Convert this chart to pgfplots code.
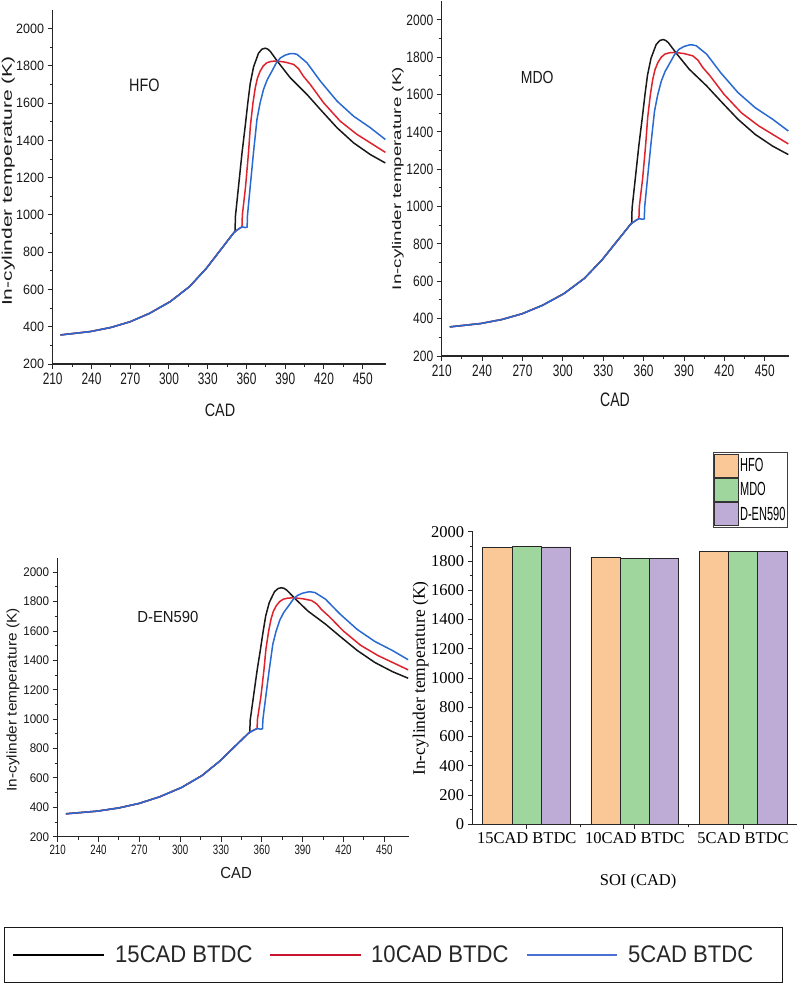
\documentclass[border=0pt]{standalone}
\usepackage{fontspec}
\setmainfont{Liberation Serif}
\usepackage{pgfplots}
\pgfplotsset{compat=1.18}
\usepackage{pgfplotstable}

\newfontfamily\fxa[FakeStretch=0.72]{Liberation Sans}
\newfontfamily\fya[FakeStretch=0.93]{Liberation Sans}
\newfontfamily\fti[FakeStretch=0.8]{Liberation Sans}
\newfontfamily\fyl[FakeStretch=1.5]{Liberation Sans}
\newfontfamily\fylc[FakeStretch=1.1]{Liberation Sans}
\newfontfamily\flg[FakeStretch=0.58]{Liberation Sans}
\newfontfamily\fbig[FakeStretch=0.92]{Liberation Sans}
\newcommand{\fs}[1]{\fontsize{#1bp}{#1bp}\selectfont}

\definecolor{cRed}{RGB}{222,35,45}
\definecolor{cBlue}{RGB}{40,105,210}
\definecolor{lRed}{RGB}{200,20,45}
\definecolor{lBlue}{RGB}{75,110,215}
\definecolor{cHFO}{RGB}{250,199,150}
\definecolor{cMDO}{RGB}{158,214,158}
\definecolor{cDEN}{RGB}{190,172,214}

% 15CAD BTDC
\pgfplotstableread{
cad T
216 356
225 363
239 374
255 396
270 427
285 472
301 535
316 616
329 714
340 813
345 858
350 903
351.2 914
351.4 990
353.8 1150
356.5 1330
359 1476
361 1600
362.9 1705
365.5 1795
369.3 1868
372 1890
374.5 1895
376.5 1890
378.4 1878
384.8 1817
393.9 1736
406.8 1647
417.2 1566
430.1 1468
442.9 1387
455.9 1324
467.5 1279
}\tblack
% 10CAD BTDC
\pgfplotstableread{
cad T
216 356
225 363
239 374
255 396
270 427
285 472
301 535
316 616
329 714
340 813
345 858
350 903
352 915
354 925
355.5 932
356.5 936
356.8 1000
359.3 1153
361.5 1330
363 1476
365 1600
366.8 1683
368.5 1735
370.6 1772
373 1800
375.8 1817
379 1824
382.3 1826
386 1824
390 1820
396.5 1808
400.3 1785
404 1745
409.4 1700
419.7 1602
432.6 1503
445.6 1432
455.9 1387
467.5 1336
}\tred
% 5CAD BTDC
\pgfplotstableread{
cad T
216 356
225 363
239 374
255 396
270 427
285 472
301 535
316 616
329 714
340 813
345 858
350 903
352 915
355 930
357 936
359 932
360.5 935
360.8 1000
362.9 1153
365.5 1340
368.1 1512
370.5 1600
373.2 1674
376 1725
379.7 1772
383 1815
386.1 1842
390 1858
393.9 1866
396.5 1866
399.1 1862
402.5 1842
406.8 1817
417.2 1718
430.1 1611
442.9 1530
455.9 1468
467.5 1405
}\tblue
% bar chart
\pgfplotstableread{
x hfo mdo den
0 1895 1897 1896
1 1826 1818 1818
2 1862 1867 1867
}\bardata

\pgfplotsset{
  linepanel/.style={
    scale only axis,
    xmin=210, xmax=468, ymin=200, ymax=2100,
    axis x line*=bottom, axis y line*=left,
    axis line style={-, black!85, line width=1.1bp},
    xtick={210,240,...,450}, ytick={200,400,...,2000},
    minor x tick num=1, minor y tick num=1,
    tick align=outside, major tick length=5bp, minor tick length=3bp,
    tick style={black!85, line width=1bp},
    scaled ticks=false,
    /pgf/number format/assume math mode=true,
    /pgf/number format/1000 sep={},
    x tick label style={font=\fxa\fs{16.5}, text=black!90},
    y tick label style={font=\fya\fs{13.5}, text=black!90},
    xlabel={CAD}, ylabel={In-cylinder temperature (K)},
    every axis plot/.append style={no markers, line width=1.5bp},
  },
}

\begin{document}
\begin{tikzpicture}
\path[use as bounding box] (0,0) rectangle (800bp,-985bp);

% ---------- HFO ----------
\begin{axis}[linepanel, at={(52.7bp,-364bp)}, anchor=south west,
  width=333.3bp, height=354bp,
  ylabel style={at={(axis description cs:-0.133,0.517)}, anchor=center, font=\fyl\fs{14}, text=black!90},
  xlabel style={at={(axis description cs:0.502,-0.13)}, anchor=center, font=\fti\fs{18}, text=black!90}]
\addplot[black!90] table[x=cad,y=T]{\tblack};
\addplot[cRed] table[x=cad,y=T]{\tred};
\addplot[cBlue] table[x=cad,y=T]{\tblue};
\node[font=\fti\fs{18}, text=black!90] at (axis cs:281,1695) {HFO};
\end{axis}

% ---------- MDO ----------
\begin{axis}[linepanel, at={(441.7bp,-356bp)}, anchor=south west,
  width=347.3bp, height=354.7bp,
  y tick label style={font=\fti\fs{15}},
  ylabel style={at={(axis description cs:-0.126,0.5)}, anchor=center, font=\fyl\fs{12.5}, text=black!90},
  xlabel style={at={(axis description cs:0.499,-0.124)}, anchor=center, font=\fxa\fs{19.5}, text=black!90}]
\addplot[black!90] table[x=cad,y=T]{\tblack};
\addplot[cRed] table[x=cad,y=T]{\tred};
\addplot[cBlue] table[x=cad,y=T]{\tblue};
\node[font=\fti\fs{17.5}, text=black!90] at (axis cs:281,1693) {MDO};
\end{axis}

% ---------- D-EN590 ----------
\begin{axis}[linepanel, at={(57.7bp,-836.7bp)}, anchor=south west,
  width=351.1bp, height=279.1bp,
  x tick label style={font=\fxa\fs{13.5}},
  y tick label style={font=\fya\fs{12.5}},
  ylabel style={at={(axis description cs:-0.127,0.49)}, anchor=center, font=\fylc\fs{14}, text=black!90},
  xlabel style={at={(axis description cs:0.508,-0.13)}, anchor=center, font=\fya\fs{16}, text=black!90}]
\addplot[black!90] table[x=cad,y=T]{\tblack};
\addplot[cRed] table[x=cad,y=T]{\tred};
\addplot[cBlue] table[x=cad,y=T]{\tblue};
\node[font=\fya\fs{16}, text=black!90] at (axis cs:291,1698) {D-EN590};
\end{axis}

% ---------- bar chart ----------
\begin{axis}[scale only axis, at={(472.7bp,-824.3bp)}, anchor=south west,
  width=324.3bp, height=292.6bp,
  ybar=0pt, bar width=29.3bp,
  xmin=-0.5, xmax=2.5, ymin=0, ymax=2000,
  axis x line*=bottom, axis y line*=left,
  axis line style={-, black!85, line width=1bp},
  xtick={0,1,2}, xticklabels={15CAD BTDC,10CAD BTDC,5CAD BTDC},
  minor xtick={0.5,1.5},
  ytick={0,200,...,2000}, minor y tick num=1,
  tick align=outside, major tick length=5bp, minor tick length=3bp,
  tick style={black!85, line width=0.9bp},
  scaled ticks=false,
  /pgf/number format/assume math mode=true,
  /pgf/number format/1000 sep={},
  tick label style={font=\fs{16.5}},
  ylabel={In-cylinder temperature (K)}, xlabel={SOI (CAD)},
  ylabel style={at={(axis description cs:-0.16,0.498)}, anchor=center, font=\fs{17.5}},
  xlabel style={at={(axis description cs:0.51,-0.194)}, anchor=center, font=\fs{16.5}},
  legend style={at={(axis description cs:0.972,1.272)}, anchor=north east,
    draw=black!75, line width=1bp, font=\flg\fs{19}, inner xsep=1bp, inner ysep=1bp,
    row sep=0.5bp, nodes={inner sep=1bp}},
  legend cell align=left,
  legend image code/.code={\draw[#1, draw=black!80, line width=0.8bp] (0bp,-11.5bp) rectangle (24bp,11.5bp);},
]
\addplot[fill=cHFO, draw=black!85, line width=0.8bp] table[x=x,y=hfo]{\bardata};
\addplot[fill=cMDO, draw=black!85, line width=0.8bp] table[x=x,y=mdo]{\bardata};
\addplot[fill=cDEN, draw=black!85, line width=0.8bp] table[x=x,y=den]{\bardata};
\legend{HFO,MDO,D-EN590}
\end{axis}

% ---------- common legend ----------
\draw[black!90, line width=1.8bp] (4.5bp,-927.5bp) rectangle (782.5bp,-982.5bp);
\draw[black, line width=1.5bp] (13bp,-955bp) -- (104bp,-955bp);
\node[anchor=west, font=\fbig\fs{24}, text=black!85, inner sep=0pt] at (115bp,-954bp) {15CAD BTDC};
\draw[lRed, line width=1.8bp] (270bp,-955bp) -- (361bp,-955bp);
\node[anchor=west, font=\fbig\fs{24}, text=black!85, inner sep=0pt] at (371bp,-954bp) {10CAD BTDC};
\draw[lBlue, line width=1.8bp] (527bp,-955bp) -- (617bp,-955bp);
\node[anchor=west, font=\fbig\fs{24}, text=black!85, inner sep=0pt] at (628bp,-954bp) {5CAD BTDC};
\end{tikzpicture}
\end{document}
